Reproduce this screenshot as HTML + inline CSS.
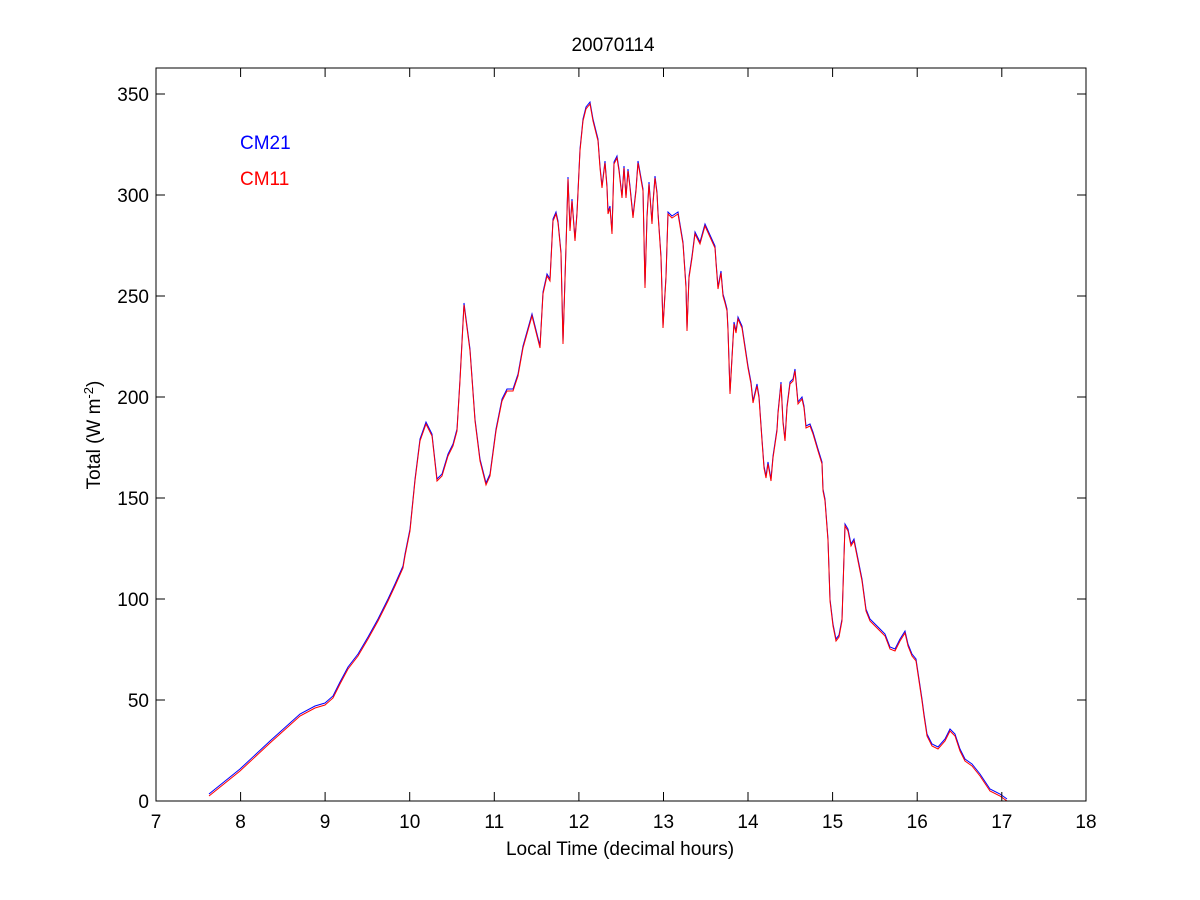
<!DOCTYPE html>
<html><head><meta charset="utf-8"><style>
body{margin:0;background:#fff}
svg{display:block}
text{font-family:"Liberation Sans",Arial,sans-serif;font-size:19px;fill:#000}
</style></head><body>
<svg width="1200" height="900" viewBox="0 0 1200 900">
<rect width="1200" height="900" fill="#fff"/>
<defs>
<polyline id="c" fill="none" points="209,795 240,770 270,742 300,715 315,707 325,704 333,697 340,683 348,668 358,655 368,638 378,620 388,600 395,585 403,567 405,555 410,530 415,480 420,440 426,423 432,435 437,480 442,475 448,455 453,445 457,430 460,380 464,304 470,350 475,420 480,460 486,484 490,475 496,430 502,400 507,390 513,390 518,375 523,347 532,315 540,347 543,293 547,275 550,280 553,220 556,213 558,222 561,253 563,343 566,247 568,178 570,230 572,200 575,240 577,213 580,150 583,120 586,108 590,103 593,120 598,140 600,167 602,187 605,162 607,187 608,213 610,207 612,233 614,163 617,157 619,170 622,197 624,167 626,197 628,170 630,187 633,217 636,190 638,162 640,173 643,190 645,287 647,217 649,183 652,223 653,203 655,177 657,193 658,213 661,257 663,327 666,277 668,213 672,217 675,215 678,213 683,243 686,287 687,330 689,277 692,257 695,233 700,243 705,225 715,247 716,262 718,288 721,272 723,295 725,302 727,310 728,330 730,393 733,340 734,323 736,332 738,318 742,327 745,347 748,367 751,383 753,402 757,385 759,397 762,440 764,467 766,477 768,463 771,480 773,457 777,430 778,413 781,383 783,422 785,440 787,407 790,383 793,380 795,370 798,403 802,398 804,407 806,427 810,425 813,433 818,450 822,463 823,490 825,500 828,540 830,600 833,625 836,640 839,636 842,620 845,525 848,530 851,545 854,540 858,560 862,580 866,610 870,620 875,625 880,630 885,635 890,648 895,650 900,640 905,632 908,645 912,655 916,660 919,680 922,700 924,715 927,735 932,745 938,748 945,740 950,730 955,735 960,750 965,760 972,765 980,775 990,790 1000,795 1007,800"/>
</defs>
<use href="#c" stroke="#0000ff" stroke-width="1" transform="translate(0,-1)"/>
<use href="#c" stroke="#ff0000" stroke-width="1" transform="translate(0,1)"/>
<rect x="156" y="68" width="930" height="733" fill="none" stroke="#000" stroke-width="1"/>
<g stroke="#000" stroke-width="1">
<path d="M156,801v-9M240.6,801v-9M325.1,801v-9M409.7,801v-9M494.3,801v-9M578.9,801v-9M663.5,801v-9M748,801v-9M832.6,801v-9M917.2,801v-9M1001.8,801v-9M1086,801v-9"/>
<path d="M156,68v9M240.6,68v9M325.1,68v9M409.7,68v9M494.3,68v9M578.9,68v9M663.5,68v9M748,68v9M832.6,68v9M917.2,68v9M1001.8,68v9M1086,68v9"/>
<path d="M156,801h9M156,700h9M156,599h9M156,498h9M156,397h9M156,296h9M156,195h9M156,94h9"/>
<path d="M1086,801h-9M1086,700h-9M1086,599h-9M1086,498h-9M1086,397h-9M1086,296h-9M1086,195h-9M1086,94h-9"/>
</g>
<g text-anchor="middle">
<text x="156" y="828">7</text><text x="240.6" y="828">8</text><text x="325.1" y="828">9</text><text x="409.7" y="828">10</text><text x="494.3" y="828">11</text><text x="578.9" y="828">12</text><text x="663.5" y="828">13</text><text x="748" y="828">14</text><text x="832.6" y="828">15</text><text x="917.2" y="828">16</text><text x="1001.8" y="828">17</text><text x="1086" y="828">18</text>
<text x="620" y="855">Local Time (decimal hours)</text>
<text x="613" y="51">20070114</text>
</g>
<g text-anchor="end">
<text x="149" y="808">0</text><text x="149" y="707">50</text><text x="149" y="606">100</text><text x="149" y="505">150</text><text x="149" y="404">200</text><text x="149" y="303">250</text><text x="149" y="202">300</text><text x="149" y="101">350</text>
</g>
<text transform="translate(100,435) rotate(-90)" text-anchor="middle">Total (W m<tspan dy="-7" font-size="13">-2</tspan><tspan dy="7">)</tspan></text>
<text x="240" y="149" style="fill:#0000ff">CM21</text>
<text x="240" y="185" style="fill:#ff0000">CM11</text>
</svg>
</body></html>
